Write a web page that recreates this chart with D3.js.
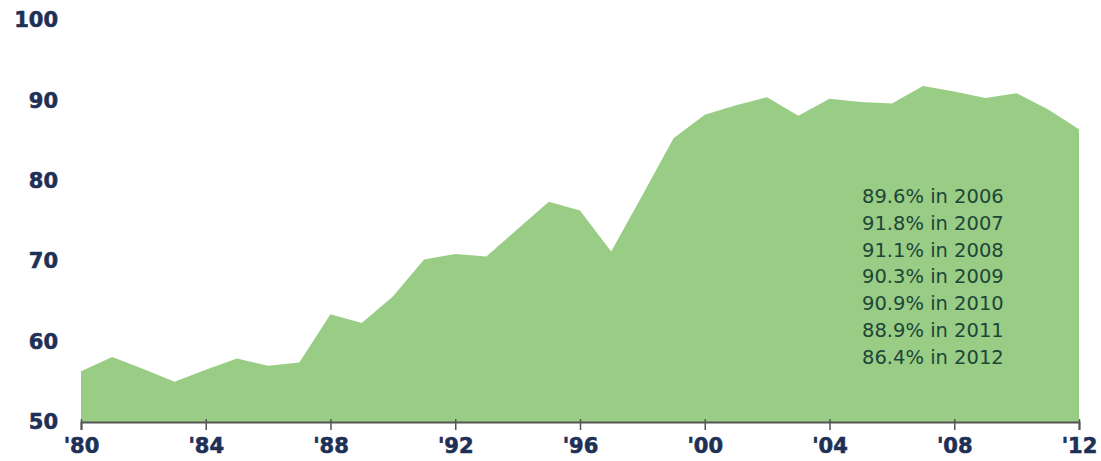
<!DOCTYPE html>
<html lang="en">
<head>
  <meta charset="UTF-8">
  <title>Area chart</title>
  <script src="https://d3js.org/d3.v7.min.js"></script>
  <style>
    body { margin: 0; background: #fff; }
    .tick text { font-family: "DejaVu Sans", Verdana, sans-serif; font-weight: bold; fill: #1f3057; stroke: #1f3057; stroke-width: 0.6px; }
  </style>
</head>
<body>
  <div id="chart"></div>
  <script>
    const years = [1980, 1981, 1982, 1983, 1984, 1985, 1986, 1987, 1988, 1989,
                   1990, 1991, 1992, 1993, 1994, 1995, 1996, 1997, 1998, 1999,
                   2000, 2001, 2002, 2003, 2004, 2005, 2006, 2007, 2008, 2009,
                   2010, 2011, 2012]
    const values = [56.3, 58.1, 56.6, 55.0, 56.5, 57.9, 57.0, 57.4, 63.4, 62.3,
                    65.6, 70.2, 70.9, 70.6, 74.0, 77.4, 76.3, 71.2, 78.2, 85.3,
                    88.2, 89.4, 90.4, 88.1, 90.2, 89.8, 89.6, 91.8, 91.1, 90.3,
                    90.9, 88.9, 86.4]
    const xTicks = [1980, 1984, 1988, 1992, 1996, 2000, 2004, 2008, 2012]
    const yTicks = [50, 60, 70, 80, 90, 100]
    const notes = ['89.6% in 2006', '91.8% in 2007', '91.1% in 2008', '90.3% in 2009',
                   '90.9% in 2010', '88.9% in 2011', '86.4% in 2012']

    const data = years.map((y, i) => ({ year: y, value: values[i] }))

    const svg = d3.select('#chart')
                  .append('svg')
                  .attr('width', 1101)
                  .attr('height', 461)

    const xScale = d3.scaleLinear()
                     .domain([1980, 2012])
                     .range([81, 1079])
    const yScale = d3.scaleLinear()
                     .domain([50, 100])
                     .range([422, 20])

    const area = d3.area()
                   .x(d => xScale(d.year))
                   .y0(yScale(50))
                   .y1(d => yScale(d.value))

    svg.append('path')
       .datum(data)
       .attr('d', area)
       .attr('fill', '#99cc85')

    // annotation block
    svg.append('g')
       .selectAll('text')
       .data(notes)
       .enter()
       .append('text')
       .attr('x', 862)
       .attr('y', (d, i) => 203 + i * 26.8)
       .style('font-family', '"DejaVu Sans", Verdana, sans-serif')
       .style('font-size', '19.5px')
       .style('fill', '#1d4637')
       .text(d => d)

    const xAxis = svg.append('g')
                     .attr('transform', `translate(0, ${yScale(50)})`)
                     .call(d3.axisBottom(xScale)
                             .tickValues(xTicks)
                             .tickSize(8)
                             .tickPadding(6)
                             .tickFormat(d => "'" + String(d).slice(2)))
    xAxis.select('.domain').attr('stroke', '#555').attr('stroke-width', 2)
    xAxis.selectAll('.tick line').attr('y1', -3).attr('stroke', '#555').attr('stroke-width', 1.5)
    xAxis.selectAll('.tick text').style('font-size', '21px').attr('dy', '0.8em')

    const yAxis = svg.append('g')
                     .attr('transform', `translate(${xScale(1980)}, 0)`)
                     .call(d3.axisLeft(yScale)
                             .tickValues(yTicks)
                             .tickSize(0)
                             .tickPadding(23))
    yAxis.select('.domain').remove()
    yAxis.selectAll('.tick text').style('font-size', '21px')
  </script>
</body>
</html>
